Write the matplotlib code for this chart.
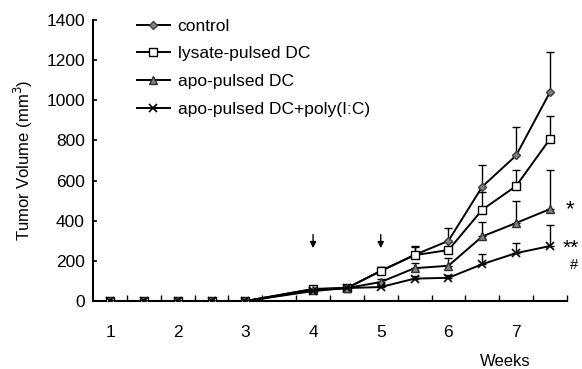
"""Tumor volume growth curves with DC vaccination groups."""

import numpy as np
import matplotlib as mpl
mpl.use('Agg')
import matplotlib.pyplot as plt
from matplotlib.ticker import FixedLocator

plt.rcParams['font.family'] = ['Liberation Sans', 'DejaVu Sans']

# =============================================================================
# Data (weeks; no measurement at 3.5)
weeks = [1, 1.5, 2, 2.5, 3, 4, 4.5, 5, 5.5, 6, 6.5, 7, 7.5]

control = [0, 0, 0, 0, 0, 60, 65, 150, 230, 300, 570, 725, 1040]
control_err = [0, 0, 0, 0, 0, 10, 10, 20, 40, 65, 110, 140, 200]

lysate = [0, 0, 0, 0, 0, 60, 65, 150, 229, 254, 455, 573, 807]
lysate_err = [0, 0, 0, 0, 0, 10, 10, 20, 45, 40, 90, 80, 115]

apo = [0, 0, 0, 0, 0, 55, 65, 95, 164, 176, 322, 389, 458]
apo_err = [0, 0, 0, 0, 0, 10, 10, 15, 25, 40, 72, 110, 195]

apo_poly = [0, 0, 0, 0, 0, 50, 65, 70, 112, 116, 184, 239, 274]
apo_poly_err = [0, 0, 0, 0, 0, 10, 10, 10, 12, 15, 50, 50, 105]

labels = ["control", "lysate-pulsed DC", "apo-pulsed DC", "apo-pulsed DC+poly(I:C)"]
week_ticks = [1, 2, 3, 4, 5, 6, 7]
arrow_weeks = [4, 5]

# =============================================================================
fs = 12.5
fig = plt.figure(figsize=(5.82, 3.69), dpi=100)
ax = fig.add_axes([0.160, 0.184, 0.814, 0.762])

styles = [
    dict(marker='D', mfc='#808080', mec='#404040', ms=4.5),
    dict(marker='s', mfc='white', mec='black', ms=5.5),
    dict(marker='^', mfc='#808080', mec='#303030', ms=6),
    dict(marker='x', mfc='none', mec='black', ms=6, mew=1.2),
]
series = [(control, control_err), (lysate, lysate_err),
          (apo, apo_err), (apo_poly, apo_poly_err)]

handles = []
for (vals, err), st, lab in zip(series, styles, labels):
    ax.errorbar(weeks, vals, yerr=[np.zeros(len(err)), err], fmt='none',
                ecolor='black', elinewidth=1.0, capsize=3, capthick=1.0, zorder=2)
    h, = ax.plot(weeks, vals, color='black', lw=1.4, label=lab, zorder=3, **st)
    handles.append(h)

ax.set_xlim(0.75, 7.75)
ax.set_ylim(0, 1400)
ax.set_yticks(range(0, 1401, 200))
ax.set_xticks(week_ticks)
ax.xaxis.set_minor_locator(FixedLocator(np.arange(1.25, 7.8, 0.5)))

ax.spines['top'].set_visible(False)
ax.spines['right'].set_visible(False)
ax.spines['left'].set_linewidth(1.5)
ax.spines['bottom'].set_linewidth(1.5)

ax.tick_params(axis='y', direction='in', length=3, width=1.2, labelsize=fs, pad=6)
ax.tick_params(axis='x', which='major', length=0, labelsize=fs, pad=17)
ax.tick_params(axis='x', which='minor', direction='in', length=4, width=1.0)

ax.set_ylabel("Tumor Volume (mm$^3$)", fontsize=fs - 0.5, labelpad=8)
fig.text(505 / 582, 1 - 362 / 369, "Weeks", fontsize=fs - 0.5, ha='center', va='center')

ax.legend(handles=handles, loc='upper left', bbox_to_anchor=(0.092, 1.005),
          frameon=False, fontsize=fs, handlelength=1.9, handletextpad=0.45,
          labelspacing=0.72, borderpad=0, borderaxespad=0)

# treatment arrows
for w in arrow_weeks:
    ax.annotate('', xy=(w, 250), xytext=(w, 345),
                arrowprops=dict(arrowstyle='-|>', color='black', lw=1.0,
                                mutation_scale=9))

# significance marks
ax.text(7.8, 455, "*", fontsize=16, ha='center', va='center', clip_on=False)
ax.text(7.68, 262, "**", fontsize=15, ha='left', va='center', clip_on=False)
ax.text(7.86, 180, "#", fontsize=fs - 2, ha='center', va='center', clip_on=False)

fig.savefig("out.png", dpi=100)
